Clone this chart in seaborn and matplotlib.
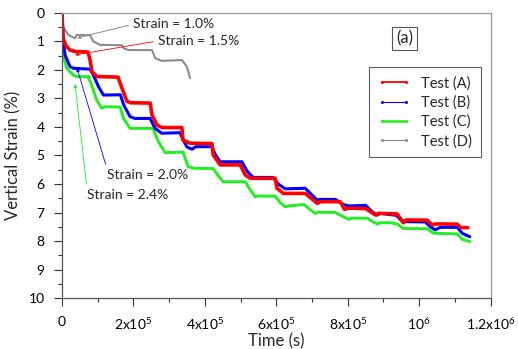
import numpy as np
import pandas as pd
import matplotlib
matplotlib.use("Agg")
import matplotlib.pyplot as plt
from matplotlib.lines import Line2D
import seaborn as sns

# ---------------- data (time in s, vertical strain in %) ----------------
time_a = [0, 1400, 3650, 11200, 22400, 36500, 72900, 78500, 84100, 98100, 157000,
          168000, 182000, 193000, 247000, 252000, 266000, 280000, 335600, 339000,
          359000, 419800, 423500, 443000, 499000, 513000, 527000, 597000, 602000,
          620000, 681000, 715000, 723000, 779000, 791000, 802000, 850000, 878000,
          886000, 938500, 956000, 965000, 1022600, 1036700, 1046000, 1106700,
          1116000, 1136500]
strain_a = [0, 0.4, 0.9, 1.15, 1.3, 1.35, 1.37, 1.65, 2.06, 2.23, 2.25,
            2.64, 3.1, 3.15, 3.16, 3.58, 3.93, 4.02, 4.02, 4.46,
            4.57, 4.58, 4.98, 5.33, 5.33, 5.68, 5.8, 5.8, 6.15,
            6.33, 6.33, 6.68, 6.62, 6.62, 6.89, 6.85, 6.86, 7.09,
            7.03, 7.05, 7.36, 7.26, 7.27, 7.44, 7.4, 7.41,
            7.53, 7.53]

time_b = [0, 1400, 2800, 8400, 22400, 31700, 78500, 87900, 101900, 115900, 163600,
          172900, 190700, 204700, 246700, 260700, 279500, 330500, 339000, 350000,
          364000, 375000, 419800, 428600, 442700, 503600, 518500, 535300, 591400,
          605400, 625000, 681000, 701000, 714100, 723300, 765400, 787800, 802800,
          850000, 869000, 882400, 891500, 936100, 947300, 961300, 1017200, 1031200,
          1045200, 1059200, 1106700, 1120700, 1142000]
strain_b = [0, 0.5, 0.9, 1.47, 1.88, 1.94, 1.97, 2.18, 2.58, 2.88, 2.87,
            3.23, 3.64, 3.7, 3.7, 4.05, 4.22, 4.2, 4.45, 4.7,
            4.78, 4.69, 4.69, 4.95, 5.22, 5.22, 5.55, 5.77, 5.77,
            6.0, 6.17, 6.15, 6.4, 6.56, 6.54, 6.54, 6.72, 6.77,
            6.75, 6.98, 7.09, 7.03, 7.1, 7.25, 7.32, 7.33, 7.5,
            7.61, 7.52, 7.52, 7.73, 7.85]

time_c = [0, 800, 2000, 5600, 13500, 31700, 42000, 76500, 72900, 83000, 97200,
          111200, 120500, 162800, 172100, 190700, 255000, 269200, 288800, 339000,
          353000, 372700, 423100, 437100, 451200, 513000, 527000, 541000, 549500,
          597000, 611000, 625000, 633500, 678300, 695100, 709100, 717500, 765400,
          787800, 802800, 810300, 854800, 869700, 882900, 891500, 919500, 938300,
          956000, 1022600, 1041000, 1106700, 1120700, 1142000]
strain_c = [0, 0.7, 1.2, 1.6, 1.94, 2.18, 2.23, 2.24, 2.24, 2.53, 3.05,
            3.34, 3.29, 3.3, 3.7, 4.05, 4.05, 4.5, 4.9, 4.88,
            5.39, 5.45, 5.46, 5.7, 5.92, 5.92, 6.2, 6.45, 6.42,
            6.43, 6.65, 6.8, 6.77, 6.72, 6.9, 7.03, 6.99, 7.0,
            7.15, 7.24, 7.2, 7.2, 7.32, 7.4, 7.36, 7.36, 7.4,
            7.56, 7.57, 7.73, 7.75, 7.94, 8.02]

time_d = [0, 1400, 2800, 17700, 36500, 41300, 78500, 87900, 106600, 167800, 172300,
          186300, 251800, 261200, 279800, 335600, 349500, 358800]
strain_d = [0, 0.3, 0.48, 0.77, 0.89, 0.77, 0.78, 1.0, 1.12, 1.13, 1.24,
            1.3, 1.3, 1.59, 1.68, 1.65, 1.88, 2.29]

tests = ["Test (A)", "Test (B)", "Test (C)", "Test (D)"]
colors = ["#ff0000", "#0000ff", "#22ee22", "#8c8c8c"]
widths = [2.6, 2.2, 2.1, 1.5]
legend_widths = [1.3, 0.8, 1.8, 0.8]

xticks = [0, 2e5, 4e5, 6e5, 8e5, 1e6, 1.2e6]
xtick_labels = ["0", "2x10$^5$", "4x10$^5$", "6x10$^5$", "8x10$^5$", "10$^6$", "1.2x10$^6$"]
yticks = list(range(0, 11))

# ---------------- style ----------------
sns.set_style("ticks")
plt.rcParams["font.family"] = ["Lato", "DejaVu Sans"]
plt.rcParams["mathtext.default"] = "regular"

fig = plt.figure(figsize=(5.18, 3.49), dpi=100)
ax = fig.add_axes([0.1197, 0.1461, 0.8273, 0.8167])

series = [(time_a, strain_a), (time_b, strain_b), (time_c, strain_c), (time_d, strain_d)]
# draw back to front: D, C, B, A
for i in [3, 2, 1, 0]:
    t, s = series[i]
    sns.lineplot(x=t, y=s, sort=False, estimator=None, color=colors[i],
                 linewidth=widths[i], ax=ax, legend=False)

ax.set_xlim(0, 1.2e6)
ax.set_ylim(10, 0)
ax.set_xticks(xticks)
ax.set_xticklabels(xtick_labels)
ax.set_xticks(np.arange(1e5, 1.2e6, 2e5), minor=True)
ax.set_yticks(yticks)
ax.set_yticks(np.arange(0.5, 10, 1.0), minor=True)

ax.tick_params(axis="both", which="major", labelsize=10, colors="#333333",
               labelcolor="black", length=6, width=0.8)
ax.tick_params(axis="x", which="major", length=6, pad=7)
ax.tick_params(axis="y", which="major", pad=6.5)
ax.tick_params(axis="both", which="minor", length=3, width=0.8, colors="#333333")

for side in ["left", "bottom"]:
    ax.spines[side].set_color("#555555")
    ax.spines[side].set_linewidth(0.9)
for side in ["top", "right"]:
    ax.spines[side].set_visible(True)
    ax.spines[side].set_color("#999999")
    ax.spines[side].set_linewidth(0.9)

ax.set_xlabel("Time (s)", fontsize=12, labelpad=1)
ax.set_ylabel("Vertical Strain (%)", fontsize=12, labelpad=5)

# legend
handles = [Line2D([0], [0], color=colors[i], lw=legend_widths[i], marker="o",
                  markersize=2.2, markeredgewidth=0) for i in range(4)]
leg = ax.legend(handles, tests, loc="upper right", bbox_to_anchor=(0.977, 0.81),
                borderaxespad=0, numpoints=2, fontsize=10.5, handlelength=2.3,
                handletextpad=0.7, labelspacing=0.35, borderpad=0.6,
                frameon=True, fancybox=False, edgecolor="#333333")
leg.get_frame().set_linewidth(0.8)

# panel label
ax.text(0.799, 0.9105, "(a)", transform=ax.transAxes, ha="center", va="center",
        fontsize=12, bbox=dict(boxstyle="square,pad=0.22", fc="white",
                               ec="#555555", lw=0.8))

# annotations
ann_kw = dict(fontsize=10, ha="left", va="center")
ax.annotate("Strain = 1.0%", xy=(42000, 0.88), xytext=(199000, 0.39),
            arrowprops=dict(arrowstyle="-|>", color="#8c8c8c", lw=0.7,
                            mutation_scale=5, relpos=(0, 0.5), shrinkA=1, shrinkB=0),
            **ann_kw)
ax.annotate("Strain = 1.5%", xy=(36500, 1.47), xytext=(269000, 0.98),
            arrowprops=dict(arrowstyle="-|>", color="#ff0000", lw=0.6,
                            mutation_scale=5, relpos=(0, 0.5), shrinkA=1, shrinkB=0),
            **ann_kw)
ax.annotate("Strain = 2.0%", xy=(42000, 1.93), xytext=(126000, 5.68),
            arrowprops=dict(arrowstyle="-|>", color="#0000ff", lw=0.6,
                            mutation_scale=5, relpos=(0, 1), shrinkA=1, shrinkB=0),
            **ann_kw)
ax.annotate("Strain = 2.4%", xy=(36500, 2.49), xytext=(70000, 6.39),
            arrowprops=dict(arrowstyle="-|>", color="#22ee22", lw=0.6,
                            mutation_scale=5, relpos=(0, 1), shrinkA=1, shrinkB=0),
            **ann_kw)

fig.savefig("out.png", dpi=100)
